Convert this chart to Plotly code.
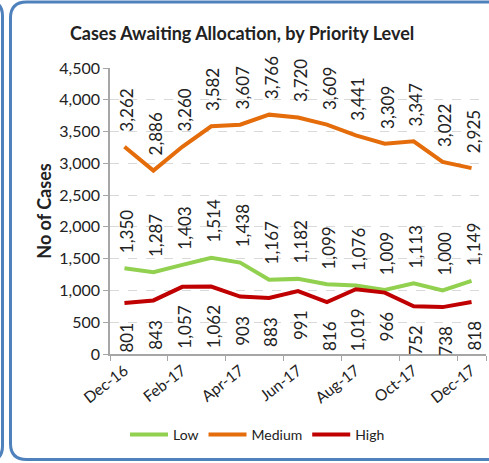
import plotly.graph_objects as go

months = ["Dec-16", "Jan-17", "Feb-17", "Mar-17", "Apr-17", "May-17", "Jun-17",
          "Jul-17", "Aug-17", "Sep-17", "Oct-17", "Nov-17", "Dec-17"]
low = [1350, 1287, 1403, 1514, 1438, 1167, 1182, 1099, 1076, 1009, 1113, 1000, 1149]
medium = [3262, 2886, 3260, 3582, 3607, 3766, 3720, 3609, 3441, 3309, 3347, 3022, 2925]
high = [801, 843, 1057, 1062, 903, 883, 991, 816, 1019, 966, 752, 738, 818]
tick_labels = months[::2]

FONT = "Lato"
TXT = "#222222"
W, H = 489, 463
L, R, T, B = 110, 3, 68, 109
PW, PH = W - L - R, H - T - B

def px(x):
    return (x - L) / PW

def py(y):
    return (H - B - y) / PH

fig = go.Figure()
series = [("Low", low, "#92D050", "above"),
          ("Medium", medium, "#E46C0A", "above"),
          ("High", high, "#C00000", "below")]
for name, vals, col, pos in series:
    fig.add_trace(go.Scatter(x=months, y=vals, name=name, mode="lines",
                             line=dict(color=col, width=4)))
    for m, v in zip(months, vals):
        fig.add_annotation(x=m, y=v, text=f"{v:,}", textangle=-90, showarrow=False,
                           xanchor="center", xshift=2,
                           yanchor="bottom" if pos == "above" else "top",
                           yshift=13 if pos == "above" else -17,
                           font=dict(family=FONT, size=17, color=TXT))

# panel borders
def rounded(x0, y0, x1, y1, r, side):
    if side == "left":
        return (f"M {px(x1)},{py(y0)} L {px(x0 + r)},{py(y0)} Q {px(x0)},{py(y0)} {px(x0)},{py(y0 + r)} "
                f"L {px(x0)},{py(y1 - r)} Q {px(x0)},{py(y1)} {px(x0 + r)},{py(y1)} L {px(x1)},{py(y1)}")
    return (f"M {px(x0)},{py(y0)} L {px(x1 - r)},{py(y0)} Q {px(x1)},{py(y0)} {px(x1)},{py(y0 + r)} "
            f"L {px(x1)},{py(y1 - r)} Q {px(x1)},{py(y1)} {px(x1 - r)},{py(y1)} L {px(x0)},{py(y1)}")

border = "#4F81BD"
fig.add_shape(type="path", xref="paper", yref="paper", path=rounded(10.5, 2, 500, 459.5, 16, "left"),
              line=dict(color=border, width=3))
fig.add_shape(type="path", xref="paper", yref="paper", path=rounded(-30, 1, 2.5, 461, 15, "right"),
              line=dict(color=border, width=3))

fig.update_layout(
    width=W, height=H,
    margin=dict(l=L, r=R, t=T, b=B),
    paper_bgcolor="white", plot_bgcolor="white",
    font=dict(family=FONT, size=14, color=TXT),
    title=dict(text="<b>Cases Awaiting Allocation, by Priority Level</b>",
               x=0.495, xanchor="center", y=1 - 34 / H, yanchor="middle",
               font=dict(family=FONT, size=18, color=TXT)),
    showlegend=True,
    legend=dict(orientation="h", x=px(125), xanchor="left", y=py(435), yanchor="middle",
                itemwidth=38,
                font=dict(family=FONT, size=14, color=TXT), bgcolor="rgba(0,0,0,0)"),
    xaxis=dict(type="category", tickmode="array", tickvals=tick_labels, ticktext=tick_labels,
               tickson="boundaries", ticks="outside", ticklen=5, tickcolor="#A6A6A6",
               tickangle=-38, showline=True, linecolor="#A6A6A6", linewidth=1.5,
               showgrid=False, range=[-0.5, 12.5], tickfont=dict(size=15.5)),
    yaxis=dict(range=[0, 4500], dtick=500, tickformat=",", ticks="outside", ticklen=5,
               tickcolor="#A6A6A6", showline=True, linecolor="#A6A6A6", linewidth=1.5,
               showgrid=True, gridcolor="#D9D9D9", griddash="dash", gridwidth=1,
               zeroline=False, tickfont=dict(size=16),
               title=dict(text="<b>No of Cases</b>", standoff=3,
                          font=dict(family=FONT, size=18, color=TXT))),
)

fig.write_html("out.html", config={"displayModeBar": False},
               post_script="document.body.style.margin='0';document.body.style.overflow='hidden';")
